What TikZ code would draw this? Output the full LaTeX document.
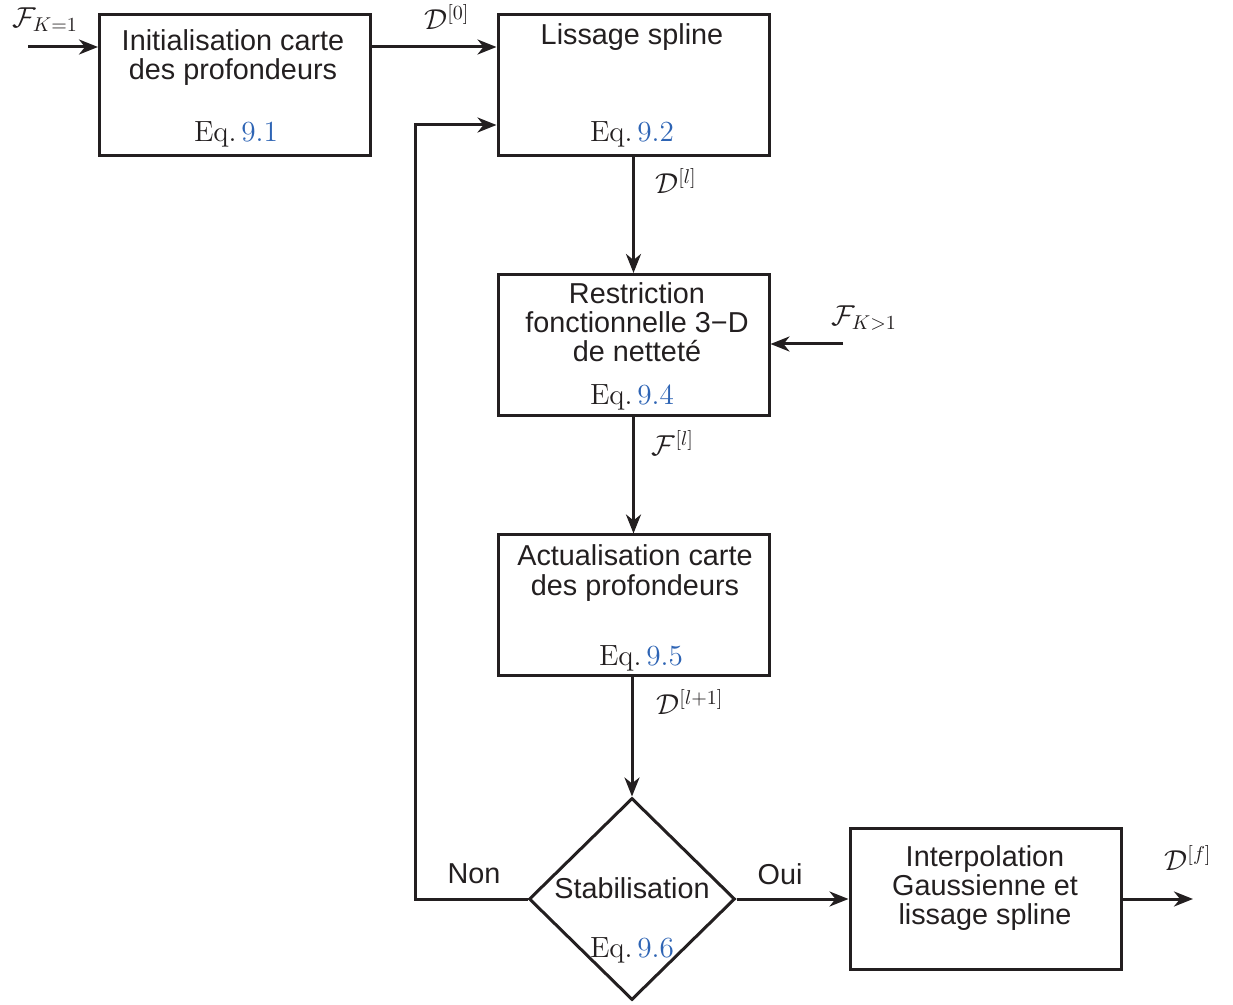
\documentclass[tikz,border=0pt]{standalone}
\usepackage{fontspec}
\newfontfamily\arialfont{Liberation Sans}
\usetikzlibrary{arrows.meta,shapes.geometric}
\definecolor{ink}{HTML}{231F20}
\definecolor{eqblue}{HTML}{2E64B4}
\newcommand{\eqref}[1]{Eq.\,\textcolor{eqblue}{#1}}
\begin{document}
\begin{tikzpicture}[x=0.5pt,y=-0.5pt,
  box/.style={draw=ink, line width=1.5pt, minimum width=135.5pt, minimum height=70.5pt, inner sep=0pt},
  dia/.style={draw=ink, line width=1.5pt, diamond, minimum width=103pt, minimum height=101pt, inner sep=0pt},
  arr/.style={draw=ink, line width=1.5pt, -{Stealth[length=9.5pt,width=7.5pt,inset=3pt]}},
  sans/.style={text=ink, font=\arialfont\fontsize{14.4}{14.6}\selectfont, align=center, inner sep=0pt},
  eqt/.style={text=ink, font=\fontsize{14.6}{16}\selectfont, inner sep=0pt},
  lab/.style={text=ink, font=\fontsize{14.4}{16}\selectfont, inner sep=0pt}]
\useasboundingbox (0,0) rectangle (1233,1005);
% boxes
\node[box] (b1) at (235,85) {};
\node[box] (b2) at (633.5,85) {};
\node[box] (b3) at (633.5,345) {};
\node[box] (b4) at (633.5,605.5) {};
\node[box] (b5) at (985.5,899) {};
\node[dia] (d) at (632,899) {};
% texts
\node[sans] (t1) at (233,57.5) {Initialisation carte\\des profondeurs};
\node[eqt] (e1) at (236,134) {\eqref{9.1}};
\node[sans] (t2) at (632,37) {Lissage spline};
\node[eqt] (e2) at (632,134) {\eqref{9.2}};
\node[sans] (t3) at (637,322) {Restriction\\fonctionnelle 3−D\\de netteté};
\node[eqt] (e3) at (632,397) {\eqref{9.4}};
\node[sans] (t4) at (635,573) {Actualisation carte\\des profondeurs};
\node[eqt] (e4) at (641,658) {\eqref{9.5}};
\node[sans] (t5) at (985,888) {Interpolation\\Gaussienne et\\lissage spline};
\node[sans] (t6) at (632,888) {Stabilisation};
\node[eqt] (e6) at (632,950) {\eqref{9.6}};
% connectors
\coordinate (in1) at (28,47);
\coordinate (in2) at (843,344);
\coordinate (fbk) at (415,125);
\coordinate (out) at (1193,899);
\draw[arr] (in1) -- (in1 -| b1.west);
\draw[arr] (b1.east |- in1) -- (b2.west |- in1);
\draw[arr] (b2.south) -- (b3.north);
\draw[arr] (in2) -- (in2 -| b3.east);
\draw[arr] (b3.south) -- (b4.north);
\draw[arr] (d.north |- b4.south) -- (d.north);
\draw[arr] (d.west) -| (fbk) -- (fbk -| b2.west);
\draw[arr] (d.east) -- (b5.west);
\draw[arr] (b5.east) -- (out);
% labels
\node[lab] (l1) at (45,20) {$\mathcal{F}_{K=1}$};
\node[lab] (l2) at (447,17) {$\mathcal{D}^{[0]}$};
\node[lab] (l3) at (676,181) {$\mathcal{D}^{[l]}$};
\node[lab] (l4) at (864,318) {$\mathcal{F}_{K>1}$};
\node[lab] (l5) at (673,443) {$\mathcal{F}^{[l]}$};
\node[lab] (l6) at (690,702) {$\mathcal{D}^{[l+1]}$};
\node[lab] (l7) at (1188,858) {$\mathcal{D}^{[f]}$};
\node[sans] (non) at (474,874) {Non};
\node[sans] (oui) at (780,874) {Oui};
\end{tikzpicture}
\end{document}
